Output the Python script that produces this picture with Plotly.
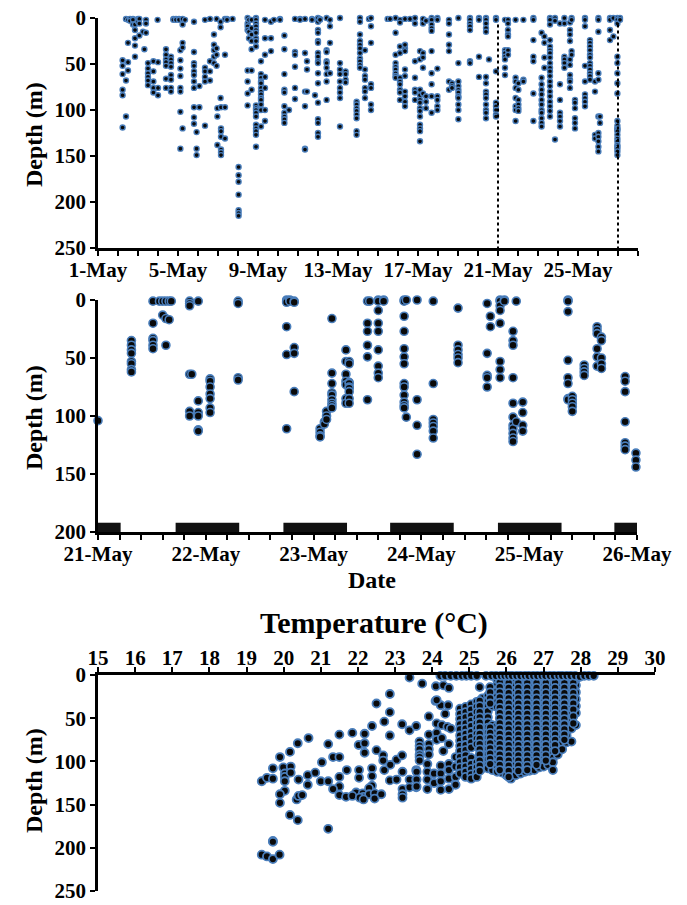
import plotly.graph_objects as go

# ---------------- DATA ----------------
# Top panel: days since 1-May 00:00, depths (m) per column
top_days = [1.23, 1.40, 1.50, 1.60, 1.75, 1.85, 2.00, 2.07, 2.25, 2.32, 2.40, 2.50, 2.77, 2.98, 3.00,
            3.40, 3.65, 3.77, 3.90, 4.05, 4.12, 4.23, 4.35, 4.80, 4.93, 5.07, 5.35, 5.60, 5.80, 5.93,
            5.97, 6.13, 6.15, 6.35, 6.45, 6.73, 7.03, 7.48, 7.55, 7.68, 7.90, 8.15, 8.35, 8.65, 8.80,
            9.10, 9.32, 9.55, 9.85, 10.10, 10.35, 10.45, 10.70, 10.85, 11.00, 11.10, 11.43, 11.60,
            12.10, 12.38, 12.93, 13.10, 13.35, 13.55, 13.65, 14.48, 14.60, 14.88, 15.10, 15.35, 15.60,
            15.85, 16.10, 16.25, 16.40, 16.68, 16.97, 17.55, 17.70, 18.02, 18.60, 19.05, 19.40, 19.55,
            19.90, 20.35, 20.50, 20.88, 21.02, 21.27, 21.77, 22.18, 22.32, 22.60, 22.85, 23.10, 23.32,
            23.60, 23.68, 23.85, 24.35, 24.60, 24.85, 25.02, 25.10, 25.60, 25.77, 25.97, 26.10]
top_depths = [
    [46, 52, 61, 78, 84, 119], [1, 68, 107], [2, 27, 48, 57], [1, 3], [1, 2, 7], [7, 13, 22, 30, 42],
    [1, 2, 4], [1, 6, 19], [15], [34], [2, 6, 16], [49, 55, 60, 64, 68, 73], [47, 58, 69, 76, 81],
    [2], [48, 76, 84], [34, 40, 45, 48, 52, 66, 76], [42, 45, 49, 53, 62, 67, 76, 80], [1, 2], [1, 2],
    [1, 2], [35, 46, 55, 63, 76, 80, 102, 142], [7, 27, 32, 120, 1], [2],
    [4, 37, 49, 52, 58, 62, 69, 76, 97, 108, 115], [124, 142, 149], [97, 74],
    [2, 54, 58, 64, 69, 117], [1, 58, 68, 47], [18, 29, 35, 42, 49], [33, 40, 52, 1],
    [98, 107, 138], [4, 10, 87], [97, 120, 123, 129, 143, 146, 149], [97, 131, 40, 1], [1, 2], [1],
    [162, 171, 178, 192, 209, 212, 215], [0, 6, 9, 13, 57, 69, 82, 95], [2, 15, 22],
    [2, 57, 78, 11, 18, 25, 34],
    [0, 2, 6, 9, 13, 16, 22, 25, 31, 95, 98, 100, 103, 107, 116, 120, 123, 127, 140],
    [61, 65, 69, 71, 76, 80, 83, 87, 89, 94, 100, 118, 47], [2, 22, 40, 64, 76, 100, 112],
    [4, 22, 36], [2],
    [1, 2], [19, 34, 61, 78, 81, 96, 103, 107, 110, 114], [100], [1, 37, 40, 53, 76, 88], [1, 2],
    [1, 38, 80, 96, 142, 143], [47, 56, 80], [1, 2], [84],
    [0, 4, 13, 16, 25, 27, 38, 42, 47, 49, 60, 71, 92, 110, 114, 125, 129], [1, 2],
    [0, 35, 37, 47, 49, 54, 61, 69, 89], [2, 9, 27, 60], [0, 49, 56, 61, 69, 76, 81, 87, 118],
    [58, 61, 67, 70], [91, 94, 98, 101, 105, 109, 123, 127],
    [0, 4, 18, 25, 29, 33, 38, 44, 47, 51, 54], [56, 63, 67, 76, 80, 87, 35], [1],
    [0, 9, 27, 72, 76, 94, 100], [1], [1], [0, 16, 40, 49, 53, 56, 60, 63, 65],
    [31, 38, 65, 69, 72, 78, 81, 89, 2, 5], [33, 36, 56, 63, 80, 85, 91, 96, 29, 1], [1],
    [0, 6, 47, 65, 78, 81, 89], [36, 45, 78, 84, 89, 92, 98, 101, 107, 116, 120, 123, 134],
    [6, 38, 43, 54, 82, 1], [85, 91, 98, 3], [0, 2, 7, 11, 14, 36, 60, 72, 85, 103],
    [0, 2, 85, 89, 96, 100, 55], [2, 6, 18, 29, 36, 69, 78], [71, 74, 76],
    [0, 49, 69, 74, 78, 81, 85, 87, 94, 100, 110], [0, 2, 6, 9, 13, 47, 49], [0, 2, 42, 64],
    [0, 2, 6, 11, 15, 64, 71, 80, 83, 87, 94, 100, 103, 109], [45],
    [0, 2, 58, 92, 96, 100, 105, 107], [2, 35, 38, 42, 45, 54, 62], [2, 6, 13, 18, 20, 35, 40],
    [2, 65, 69, 76, 87, 96, 100, 112], [71, 78, 89, 94, 98, 101], [2, 67, 69],
    [0, 2, 24, 42, 47, 82, 112], [16, 65, 72, 78, 83, 89, 94, 100, 103, 109, 114, 118],
    [20, 27, 43, 54],
    [0, 2, 7, 24, 31, 35, 38, 43, 49, 54, 58, 63, 69, 74, 80, 85, 91, 96, 101, 107], [0, 3, 132],
    [6, 72, 89, 103, 107, 112, 118], [0, 6, 42, 45, 49, 54], [5, 13, 18, 25, 45, 51, 62, 67, 69, 76],
    [0, 2, 36, 40], [89, 92, 98, 109, 114, 120], [0, 2, 9, 52, 69, 83, 87, 91, 96],
    [24, 27, 31, 35, 40, 43, 49, 52, 56, 60, 63, 67], [69, 80, 127, 131],
    [0, 2, 15, 60, 67, 107, 125, 129, 134, 140, 145], [107, 114], [0, 2, 13, 24], [0, 20],
    [0, 2, 6, 42, 49, 60, 71, 82, 112, 117, 120, 121, 123, 127, 131, 134, 138, 140, 142, 145, 149],
    [0, 2]]
top_tick_days = list(range(0, 28))
top_tick_labels = {0: "1-May", 4: "5-May", 8: "9-May", 12: "13-May", 16: "17-May", 20: "21-May", 24: "25-May"}
top_marker_days = [20, 26]

# Middle panel: days since 21-May 00:00
mid_days = [0.00, 0.31, 0.51, 0.57, 0.60, 0.63, 0.66, 0.68, 0.85, 0.87, 0.93, 1.04, 1.30, 1.75, 1.78,
            1.82, 2.06, 2.10, 2.12, 2.17, 2.30, 2.33, 2.50, 2.52, 2.60, 2.65, 2.84, 2.86, 2.96, 3.11,
            3.34, 3.61, 3.64, 3.73, 3.77, 3.85, 3.88, 3.94, 4.36, 4.40, 4.51, 4.63, 4.67, 4.89, 4.99]
mid_depths = [
    [104], [35, 39, 43, 46, 53, 55, 60, 62], [1, 20, 33, 35, 39, 42], [1], [1, 13], [1, 16, 39],
    [1, 17], [1], [1, 3, 5, 64, 96, 100], [64], [1, 87, 97, 100, 112, 113],
    [68, 70, 75, 81, 85, 93, 97], [1, 3, 67, 69], [0, 1, 2, 23, 47, 111], [0, 1], [1, 2, 41, 46, 79],
    [111, 114, 117, 118], [105, 107], [96, 100, 103], [16, 63, 72, 80, 82, 86, 89, 91, 93],
    [43, 53, 64, 70, 73, 85, 89], [53, 55, 71, 72, 75, 76, 79, 85, 89], [1, 20, 27, 39, 49, 86], [1],
    [0, 1, 9, 20, 27, 43, 57, 63, 67], [0, 1], [0, 1, 14, 27, 42, 49, 55, 72, 75, 82, 88, 91, 93],
    [101, 0], [86, 108, 133, 0], [1, 72, 103, 106, 109, 113, 119], [7, 39, 43, 47, 50, 54],
    [3, 46, 65, 67, 75], [14, 23], [0, 1, 5, 9, 20, 53, 60, 67], [0, 1],
    [27, 35, 39, 67, 89, 101, 108, 111, 115, 119, 122], [1, 105], [88, 97, 108, 113],
    [0, 1, 10, 52, 67, 72, 85, 86], [83, 86, 89, 92, 96], [56, 59, 62, 65], [23, 26, 29, 42, 49, 57],
    [32, 35, 50, 55, 59], [66, 70, 79, 105, 123, 126, 129], [132, 138, 144]]
mid_tick_days = [round(i * 0.2, 1) for i in range(26)]
mid_tick_labels = {0: "21-May", 1: "22-May", 2: "23-May", 3: "24-May", 4: "25-May", 5: "26-May"}
night_start = [0.0, 0.72, 1.72, 2.71, 3.71, 4.79]
night_end = [0.21, 1.31, 2.31, 3.30, 4.30, 5.0]

# Bottom panel: scattered points (temperature, depth)
bot_temp = [19.41, 19.55, 19.71, 19.71, 19.90, 19.99, 20.03, 20.03, 20.03, 20.03, 19.90, 19.90, 20.17,
            20.19, 20.19, 20.38, 20.40, 20.67, 20.65, 20.65, 20.85, 20.35, 20.40, 20.50, 20.17, 20.38,
            21.03, 21.00, 21.20, 21.20, 21.33, 21.50, 21.50, 21.70, 21.50, 21.50, 21.33, 21.50, 21.68,
            21.20, 19.71, 19.71, 19.41, 19.55, 19.71, 19.89,
            23.39, 23.73, 24.10, 22.86, 22.50, 22.86, 22.71, 22.38, 23.19, 23.39, 23.57, 23.91, 24.09,
            24.23, 22.86, 22.18, 21.85, 22.02, 22.18, 22.18, 22.50, 22.68, 22.68, 23.04, 23.19, 22.03,
            22.03, 22.38, 22.38, 22.38, 22.71, 22.87, 23.20, 22.86, 23.04, 23.20, 23.20, 23.20, 23.39,
            23.39, 23.57, 23.57, 23.57, 21.95, 22.13, 22.15, 22.30, 22.30, 22.45, 22.45, 22.63, 21.85,
            22.05, 22.15,
            24.12, 24.43, 24.12, 24.26, 24.41, 23.66, 23.66, 23.66, 23.66, 23.66, 23.66, 23.91, 23.91,
            23.91, 23.91, 24.12, 24.12, 24.26, 23.58, 23.58, 23.58, 23.87, 23.87, 23.87, 23.87, 24.05,
            24.05, 24.23, 24.23, 24.23, 24.23, 24.45, 24.45, 24.45, 24.45, 24.63, 24.63, 24.63, 24.63,
            24.45, 24.30, 24.50, 24.35, 25.28, 24.30, 24.45]
bot_depth = [123, 119, 120, 108, 95, 107, 114, 118, 123, 134, 138, 148, 89,
             106, 113, 79, 121, 73, 116, 127, 113, 144, 140, 139, 162, 168,
             101, 123, 123, 80, 95, 95, 69, 110, 118, 129, 132, 139, 141,
             178, 192, 193, 208, 210, 213, 208,
             3, 10, 13, 22, 33, 43, 54, 59, 57, 64, 59, 48, 30,
             35, 70, 68, 67, 81, 79, 90, 87, 93, 99, 98, 93, 110,
             119, 108, 117, 128, 110, 104, 112, 122, 121, 132, 138, 142, 121,
             130, 110, 121, 130, 136, 137, 141, 131, 138, 137, 143, 138, 140,
             142, 144,
             29, 35, 56, 58, 60, 77, 82, 86, 92, 95, 99, 69, 80,
             86, 92, 67, 75, 73, 112, 121, 129, 103, 112, 121, 132, 114,
             125, 105, 114, 123, 133, 103, 110, 120, 132, 95, 106, 118, 127,
             80, 88, 62, 45, 14, 12, 15]
surface_temp = [24.22, 24.35, 24.50, 24.65, 24.80, 24.92, 25.05, 25.20, 25.45, 25.60, 25.72, 25.85,
                25.95, 26.05, 26.15, 26.27, 26.38, 26.50, 26.60, 26.72, 26.83, 26.95, 27.05, 27.17,
                27.28, 27.40, 27.50, 27.62, 27.73, 27.85, 27.98, 28.10, 28.22, 28.35]
surface_depth = [1, 1, 1, 1, 1, 1, 1, 1, 1, 1, 1, 1, 1, 1, 1, 1, 1, 1, 1, 1, 1, 1, 1, 1,
                 1, 1, 1, 1, 1, 1, 2, 1, 1, 1]
block_temps = [24.75, 24.90, 25.05, 25.20, 25.35, 25.50, 25.62, 25.75, 25.88, 26.00, 26.12, 26.25,
               26.38, 26.50, 26.62, 26.75, 26.88, 27.00, 27.12, 27.25, 27.38, 27.50, 27.62, 27.75, 27.87]
block_depths = [
    [39, 45, 51, 57, 63, 70, 76, 82, 88, 95, 101, 107, 114],
    [37, 43, 49, 56, 62, 68, 74, 81, 87, 93, 99, 106, 112, 118],
    [34, 40, 47, 53, 59, 66, 72, 78, 84, 96, 103, 109, 115, 120],
    [31, 37, 43, 50, 56, 62, 68, 74, 80, 101, 107, 113, 118],
    [27, 33, 40, 46, 52, 58, 64, 71, 77, 83, 89, 96, 102, 108],
    [24, 30, 36, 42, 49, 55, 61, 67, 73, 79, 86, 92, 98, 104, 108],
    [18, 24, 30, 36, 58, 64, 70, 76, 82, 88, 94, 100, 106, 110],
    [6, 12, 18, 24, 30, 37, 59, 65, 71, 77, 83, 90, 96, 102, 108, 112],
    [6, 9, 15, 21, 27, 33, 40, 46, 52, 58, 64, 70, 77, 83, 89, 95, 101, 107, 113],
    [6, 8, 14, 20, 26, 32, 38, 45, 51, 57, 63, 69, 75, 81, 87, 93, 99, 105, 111, 116],
    [6, 12, 18, 24, 30, 36, 42, 48, 55, 61, 67, 73, 79, 85, 91, 97, 103, 109, 115, 120],
    [6, 12, 18, 24, 30, 36, 43, 49, 55, 61, 67, 73, 79, 92, 98, 104, 110, 116],
    [6, 12, 18, 24, 31, 37, 43, 49, 55, 61, 67, 73, 80, 86, 92, 98, 104, 110, 114],
    [5, 11, 17, 23, 29, 35, 41, 48, 54, 60, 66, 72, 78, 84, 90, 96, 102, 108, 112],
    [5, 11, 17, 23, 29, 35, 41, 47, 53, 59, 66, 72, 78, 84, 90, 96, 102, 108, 111],
    [5, 11, 17, 23, 29, 35, 41, 47, 53, 59, 65, 71, 77, 83, 89, 95, 101, 107, 110],
    [5, 11, 17, 23, 29, 35, 41, 47, 53, 59, 65, 71, 77, 83, 89, 95, 101, 107],
    [5, 11, 17, 23, 29, 35, 41, 47, 53, 59, 65, 71, 77, 83, 89, 95, 101, 106],
    [5, 11, 17, 23, 29, 35, 41, 47, 53, 59, 65, 71, 77, 83, 89, 95, 104],
    [5, 11, 17, 23, 29, 35, 41, 47, 53, 59, 65, 71, 77, 83, 89, 96, 101, 110],
    [5, 11, 17, 23, 29, 35, 41, 47, 53, 59, 65, 71, 77, 84, 92],
    [5, 11, 17, 23, 29, 35, 41, 47, 53, 59, 65, 71, 78, 86],
    [5, 11, 17, 23, 29, 35, 42, 48, 55, 62, 70, 78],
    [5, 11, 17, 24, 31, 38, 45, 52, 62, 77],
    [5, 12, 20, 28, 36, 44, 58]]
# intermediate stacks inside the dense block (second pass of readings, offset depths)
stack_temps = [25.28, 25.56, 25.82, 26.06, 26.32, 26.56, 26.81, 27.06, 27.31, 27.56, 27.80]
stack_depths = [
    [30, 36, 43, 49, 55, 61, 68, 74, 80, 86, 92, 99, 105, 111],
    [14, 20, 27, 33, 61, 67, 73, 79, 85, 91, 97, 103],
    [8, 14, 20, 26, 32, 38, 44, 50, 56, 62, 68, 74, 80, 86, 92, 98, 104, 110],
    [3, 9, 15, 21, 27, 33, 39, 45, 51, 57, 63, 69, 75, 81, 87, 93, 99, 105, 111, 118],
    [3, 9, 15, 21, 27, 33, 39, 45, 51, 57, 63, 69, 75, 81, 87, 93, 99, 105, 111],
    [3, 9, 15, 21, 27, 33, 39, 45, 51, 57, 63, 69, 75, 81, 87, 93, 99, 105, 110],
    [3, 9, 15, 21, 27, 33, 39, 45, 51, 57, 63, 69, 75, 81, 87, 93, 99, 104],
    [3, 9, 15, 21, 27, 33, 39, 45, 51, 57, 63, 69, 75, 81, 87, 93, 99],
    [3, 9, 15, 21, 27, 33, 39, 45, 51, 57, 63, 69, 75, 81, 88],
    [3, 9, 15, 21, 27, 33, 39, 45, 51, 57, 63, 69, 75],
    [3, 9, 15, 21, 27, 33, 40, 48, 56]]

# ---------------- FIGURE ----------------
W, H = 687, 905
FONT = "Liberation Serif"
EDGE = "#4a7ebb"
DOT = "#0a0a0a"


def flatten(xs, cols):
    fx, fy = [], []
    for x, ds in zip(xs, cols):
        for d in ds:
            fx.append(x)
            fy.append(d)
    return fx, fy


def hd(px0, px1):
    return [px0 / W, px1 / W]


def vd(py_top, py_bot):
    return [1 - py_bot / H, 1 - py_top / H]


fig = go.Figure()

tx, ty = flatten(top_days, top_depths)
fig.add_trace(go.Scatter(x=tx, y=ty, mode="markers", xaxis="x", yaxis="y", cliponaxis=False,
                         marker=dict(size=5, color=DOT, line=dict(color=EDGE, width=1.4)),
                         showlegend=False))

mx, my = flatten(mid_days, mid_depths)
fig.add_trace(go.Scatter(x=mx, y=my, mode="markers", xaxis="x2", yaxis="y2", cliponaxis=False,
                         marker=dict(size=8, color=DOT, line=dict(color=EDGE, width=1.6)),
                         showlegend=False))

bx, by = flatten(block_temps, block_depths)
sx, sy = flatten(stack_temps, stack_depths)
all_t = bot_temp + bx + sx + surface_temp
all_d = bot_depth + by + sy + surface_depth
fig.add_trace(go.Scatter(x=all_t, y=all_d, mode="markers", xaxis="x3", yaxis="y3", cliponaxis=False,
                         marker=dict(size=8, color=DOT, line=dict(color=EDGE, width=1.8)),
                         showlegend=False))

axis_common = dict(showline=True, linecolor="black", linewidth=2.5, showgrid=False, zeroline=False,
                   ticks="outside", ticklen=5, tickwidth=2, tickcolor="black", automargin=False,
                   tickangle=0, ticklabeloverflow="allow",
                   tickfont=dict(family=FONT, size=21, color="black"))

fig.update_layout(
    template="none",
    width=W, height=H, margin=dict(l=0, r=0, t=0, b=0, pad=0), autosize=False,
    paper_bgcolor="white", plot_bgcolor="white",
    font=dict(family=FONT, color="black"),
    xaxis=dict(domain=hd(98, 638), range=[0, 27], anchor="y", tickmode="array",
               tickvals=top_tick_days, ticklabelstandoff=-4,
               ticktext=["<b>%s</b>" % top_tick_labels.get(d, "") for d in top_tick_days],
               **axis_common),
    yaxis=dict(domain=vd(18, 248), range=[250, 0], anchor="x", tickmode="array",
               tickvals=[0, 50, 100, 150, 200, 250],
               ticktext=["<b>%d</b>" % v for v in [0, 50, 100, 150, 200, 250]], **axis_common),
    xaxis2=dict(domain=hd(98, 637), range=[0, 5], anchor="y2", tickmode="array",
                tickvals=mid_tick_days, ticklabelstandoff=-4,
                ticktext=["<b>%s</b>" % mid_tick_labels.get(round(d), "") if abs(d - round(d)) < 1e-6 else ""
                          for d in mid_tick_days],
                **axis_common),
    yaxis2=dict(domain=vd(300, 532), range=[200, 0], anchor="x2", tickmode="array",
                tickvals=[0, 50, 100, 150, 200],
                ticktext=["<b>%d</b>" % v for v in [0, 50, 100, 150, 200]], **axis_common),
    xaxis3=dict(domain=hd(98, 655), range=[15, 30], anchor="y3", side="top", tickmode="array",
                tickvals=list(range(15, 31)), ticklabelstandoff=-6,
                ticktext=["<b>%d</b>" % v for v in range(15, 31)], **axis_common),
    yaxis3=dict(domain=vd(675, 891), range=[250, 0], anchor="x3", tickmode="array",
                tickvals=[0, 50, 100, 150, 200, 250],
                ticktext=["<b>%d</b>" % v for v in [0, 50, 100, 150, 200, 250]], **axis_common),
)

shapes = []
for d in top_marker_days:
    shapes.append(dict(type="line", xref="x", yref="y", x0=d, x1=d, y0=7, y1=250,
                       line=dict(color="black", width=2, dash="dot")))
for s, e in zip(night_start, night_end):
    shapes.append(dict(type="rect", xref="x2", yref="y2", x0=s, x1=e, y0=192, y1=200,
                       fillcolor="#111111", line=dict(width=0), layer="above"))
fig.update_layout(shapes=shapes)

title_font = dict(family=FONT, size=24, color="black")
ann = []
for yc in [135, 418, 781]:
    ann.append(dict(text="<b>Depth (m)</b>", x=34 / W, y=1 - yc / H, xref="paper", yref="paper",
                    showarrow=False, textangle=-90, font=title_font, xanchor="center", yanchor="middle"))
ann.append(dict(text="<b>Date</b>", x=372 / W, y=1 - 580 / H, xref="paper", yref="paper",
                showarrow=False, font=title_font, xanchor="center", yanchor="middle"))
ann.append(dict(text="<b>Temperature (°C)</b>", x=374 / W, y=1 - 623 / H, xref="paper", yref="paper",
                showarrow=False, font=dict(family=FONT, size=30, color="black"),
                xanchor="center", yanchor="middle"))
fig.update_layout(annotations=ann)

fig.write_html("out.html")
